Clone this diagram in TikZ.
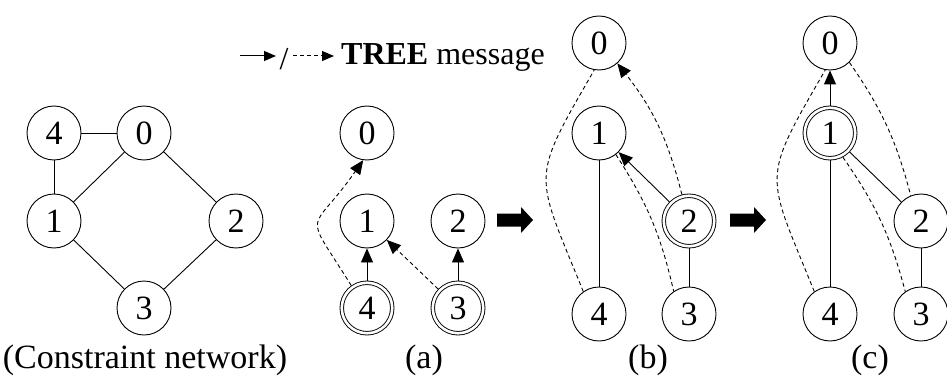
\documentclass[tikz,border=0pt]{standalone}
\usepackage{fontspec}
\setmainfont{Liberation Serif}
\usetikzlibrary{arrows.meta}
\begin{document}
\begin{tikzpicture}[x=1pt,y=1pt,
  vtx/.style={circle,draw,line width=0.9pt,minimum size=54pt,inner sep=0pt,font=\fontsize{34}{34}\selectfont},
  dvtx/.style={vtx,double,double distance=2.6pt,minimum size=50.5pt,outer sep=2.2pt},
  ln/.style={line width=0.9pt},
  msg/.style={line width=0.9pt,-{Triangle[length=14pt,width=12pt]}},
  lmsg/.style={line width=1pt,-{Triangle[length=12pt,width=10pt]}},
  dsh/.style={dash pattern=on 4pt off 3pt},
  lbl/.style={inner sep=0pt,font=\fontsize{34}{34}\selectfont},
  blk/.style={fill=black}
]
\useasboundingbox (0,0) rectangle (947,389);

% ---------- legend ----------
\coordinate (l1) at (240,333);
\coordinate (l1e) at (276,333);
\node[inner sep=0pt,font=\fontsize{32}{32}\selectfont] (sl) at (284,329.5) {/};
\coordinate (l2) at (293,333);
\coordinate (l2e) at (334,333);
\node[anchor=base west,inner sep=0pt,font=\fontsize{32}{32}\selectfont] (lt) at (341,324) {\textbf{TREE} message};
\draw[lmsg] (l1) -- (l1e);
\draw[lmsg,dsh] (l2) -- (l2e);

% ---------- constraint network ----------
\node[vtx] (n4) at (54,256) {4};
\node[vtx] (n0) at (144,256) {0};
\node[vtx] (n1) at (54,168) {1};
\node[vtx] (n2) at (236,168) {2};
\node[vtx] (n3) at (144,81) {3};
\draw[ln] (n4) -- (n0);
\draw[ln] (n4) -- (n1);
\draw[ln] (n1) -- (n0);
\draw[ln] (n0) -- (n2);
\draw[ln] (n1) -- (n3);
\draw[ln] (n2) -- (n3);
\node[lbl] (lcn) at (145,29) {(Constraint network)};

% ---------- (a) ----------
\node[vtx] (a0) at (367,256) {0};
\node[vtx] (a1) at (367,168) {1};
\node[vtx] (a2) at (458,168) {2};
\node[dvtx] (a4) at (367,81) {4};
\node[dvtx] (a3) at (458,81) {3};
\draw[msg] (a4) -- (a1);
\draw[msg] (a3) -- (a2);
\draw[msg,dsh] (a3) -- (a1);
\draw[msg,dsh] (a4.125) to[out=122,in=235,looseness=1.9] (a0.-98);
\node[lbl] (la) at (424,29) {(a)};

% ---------- block arrows ----------
\fill[blk] (497,162.5) -- (521,162.5) -- (521,156) -- (533,169) -- (521,182) -- (521,175.5) -- (497,175.5) -- cycle;
\fill[blk] (730,162.5) -- (754,162.5) -- (754,156) -- (766,169) -- (754,182) -- (754,175.5) -- (730,175.5) -- cycle;

% ---------- (b) ----------
\node[vtx] (b0) at (599,346) {0};
\node[vtx] (b1) at (599,256) {1};
\node[dvtx] (b2) at (689,168) {2};
\node[vtx] (b4) at (599,75) {4};
\node[vtx] (b3) at (689,75) {3};
\draw[ln] (b1) -- (b4);
\draw[ln] (b2) -- (b3);
\draw[msg] (b2) -- (b1);
\draw[msg,dsh] (b2.105) to[bend right=12] (b0.-48);
\draw[ln,dsh] (b4.125) to[out=112,in=240,looseness=1.5] (b0.-100);
\draw[ln,dsh] (b1.-52) to[bend left=10] (b3.124);
\node[lbl] (lb) at (648,29) {(b)};

% ---------- (c) ----------
\node[vtx] (c0) at (830,346) {0};
\node[dvtx] (c1) at (830,256) {1};
\node[vtx] (c2) at (921,168) {2};
\node[vtx] (c4) at (830,75) {4};
\node[vtx] (c3) at (921,75) {3};
\draw[msg] (c1) -- (c0);
\draw[ln] (c1) -- (c4);
\draw[ln] (c1) -- (c2);
\draw[ln] (c2) -- (c3);
\draw[ln,dsh] (c0.-45) to[bend left=10] (c2.112);
\draw[ln,dsh] (c4.125) to[out=112,in=240,looseness=1.5] (c0.-100);
\draw[ln,dsh] (c1.-62) to[bend left=10] (c3.125);
\node[lbl] (lc) at (870,29) {(c)};
\end{tikzpicture}
\end{document}
